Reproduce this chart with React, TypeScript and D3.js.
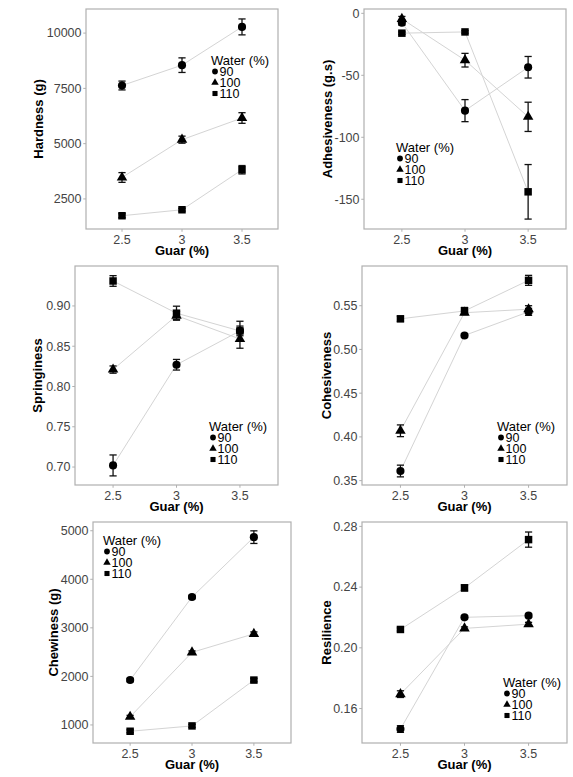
import * as d3 from "d3";
import React from "react";

// guar levels on the x axis and the three water levels
const guar = [2.5, 3, 3.5];
const water = ["90", "100", "110"];

// means per water level (rows: 90, 100, 110), one value per guar level
const hardness = [[7630, 8550, 10280], [3470, 5180, 6160], [1740, 2010, 3820]];
const hardnessErr = [[200, 330, 360], [220, 160, 240], [90, 60, 190]];

const adhesiveness = [[-7.5, -78.5, -43.5], [-4.5, -37.8, -83.5], [-16, -15, -144]];
const adhesivenessErr = [[2, 8.9, 8.7], [2, 5.5, 11.8], [1, 1, 22]];

const springiness = [[0.702, 0.827, 0.869], [0.821, 0.888, 0.859], [0.931, 0.891, 0.869]];
const springinessErr = [[0.013, 0.0066, 0.012], [0.0045, 0.005, 0.0115], [0.0066, 0.0087, 0.006]];

const cohesiveness = [[0.361, 0.516, 0.543], [0.407, 0.542, 0.546], [0.535, 0.544, 0.579]];
const cohesivenessErr = [[0.0067, 0.002, 0.004], [0.0067, 0.002, 0.004], [0.003, 0.004, 0.0057]];

const chewiness = [[1925, 3635, 4868], [1168, 2495, 2876], [870, 980, 1924]];
const chewinessErr = [[35, 35, 130], [30, 30, 40], [30, 30, 35]];

const resilience = [[0.1465, 0.2201, 0.2212], [0.1695, 0.2128, 0.2156], [0.2121, 0.2395, 0.2713]];
const resilienceErr = [[0.0022, 0.001, 0.001], [0.0022, 0.001, 0.0012], [0.001, 0.002, 0.005]];

const FONT = "'Liberation Sans', Arial, sans-serif";
const shapes = [d3.symbolCircle, d3.symbolTriangle, d3.symbolSquare];
const markSizes = [52, 48, 56];
const legendSizes = [26, 24, 26];

interface PanelProps {
  box: [number, number, number, number]; // left, top, right, bottom
  yDomain: [number, number];
  yTicks: number[];
  fmt: (v: number) => string;
  values: number[][];
  errors: number[][];
  yLabel: string;
  yLabelX: number;
  legend: [number, number];
}

const Panel = ({ box, yDomain, yTicks, fmt, values, errors, yLabel, yLabelX, legend }: PanelProps) => {
  const [x0, y0, x1, y1] = box;
  const x = d3.scaleLinear().domain([2.2, 3.8]).range([x0, x1]);
  const y = d3.scaleLinear().domain(yDomain).range([y1, y0]);
  const line = d3
    .line<number>()
    .x((_, i) => x(guar[i]))
    .y((d) => y(d));
  const cap = 3.6;
  return (
    <g>
      <rect x={x0} y={y0} width={x1 - x0} height={y1 - y0} fill="white" stroke="#b0b0b0" strokeWidth={1.2} />
      {yTicks.map((t) => (
        <g key={"y" + t}>
          <line x1={x0 - 2.75} x2={x0} y1={y(t)} y2={y(t)} stroke="#b0b0b0" strokeWidth={1} />
          <text x={x0 - 4.5} y={y(t)} dy="0.35em" textAnchor="end" fontSize={12.5} fill="#444" fontFamily={FONT}>
            {fmt(t)}
          </text>
        </g>
      ))}
      {guar.map((g) => (
        <g key={"x" + g}>
          <line x1={x(g)} x2={x(g)} y1={y1} y2={y1 + 2.75} stroke="#b0b0b0" strokeWidth={1} />
          <text x={x(g)} y={y1 + 14.5} textAnchor="middle" fontSize={12.5} fill="#444" fontFamily={FONT}>
            {String(g)}
          </text>
        </g>
      ))}
      <text x={(x0 + x1) / 2} y={y1 + 25.5} textAnchor="middle" fontSize={13} fontWeight="bold" fontFamily={FONT}>
        Guar (%)
      </text>
      <text
        transform={`translate(${yLabelX},${(y0 + y1) / 2}) rotate(-90)`}
        dy="0.35em"
        textAnchor="middle"
        fontSize={13}
        fontWeight="bold"
        fontFamily={FONT}
      >
        {yLabel}
      </text>
      {values.map((row, s) => (
        <path key={"l" + s} d={line(row) || ""} fill="none" stroke="#d4d4d4" strokeWidth={1} />
      ))}
      {values.map((row, s) =>
        row.map((v, i) => {
          const cx = x(guar[i]);
          const lo = y(v - errors[s][i]);
          const hi = y(v + errors[s][i]);
          return (
            <g key={"e" + s + i} stroke="#111" strokeWidth={1.3}>
              <line x1={cx} x2={cx} y1={lo} y2={hi} />
              <line x1={cx - cap} x2={cx + cap} y1={lo} y2={lo} />
              <line x1={cx - cap} x2={cx + cap} y1={hi} y2={hi} />
            </g>
          );
        })
      )}
      {values.map((row, s) =>
        row.map((v, i) => (
          <path
            key={"p" + s + i}
            transform={`translate(${x(guar[i])},${y(v)})`}
            d={d3.symbol(shapes[s], markSizes[s])() || ""}
            fill="#000"
          />
        ))
      )}
      <g fontFamily={FONT}>
        <text x={legend[0]} y={legend[1]} dy="0.35em" fontSize={13}>
          Water (%)
        </text>
        {water.map((w, s) => {
          const cy = legend[1] + 11.5 + s * 11;
          return (
            <g key={"k" + w}>
              <path
                transform={`translate(${legend[0] + 4},${cy})`}
                d={d3.symbol(shapes[s], legendSizes[s])() || ""}
                fill="#000"
              />
              <text x={legend[0] + 8.5} y={cy} dy="0.35em" fontSize={12.5}>
                {w}
              </text>
            </g>
          );
        })}
      </g>
    </g>
  );
};

const int = (v: number) => String(v);
const dec2 = (v: number) => v.toFixed(2);

const App = () => (
  <svg width={573} height={777} style={{ position: "absolute", left: 0, top: 0, background: "white" }}>
    <Panel
      box={[86, 9, 278, 229]}
      yDomain={[1140, 11090]}
      yTicks={[2500, 5000, 7500, 10000]}
      fmt={int}
      values={hardness}
      errors={hardnessErr}
      yLabel="Hardness (g)"
      yLabelX={38}
      legend={[211, 60]}
    />
    <Panel
      box={[364, 9, 566, 229]}
      yDomain={[-174, 3.5]}
      yTicks={[-150, -100, -50, 0]}
      fmt={int}
      values={adhesiveness}
      errors={adhesivenessErr}
      yLabel="Adhesiveness (g.s)"
      yLabelX={327}
      legend={[396, 147]}
    />
    <Panel
      box={[75, 266, 278, 485]}
      yDomain={[0.6777, 0.9496]}
      yTicks={[0.7, 0.75, 0.8, 0.85, 0.9]}
      fmt={dec2}
      values={springiness}
      errors={springinessErr}
      yLabel="Springiness"
      yLabelX={37}
      legend={[209, 426]}
    />
    <Panel
      box={[362, 266, 567, 485]}
      yDomain={[0.345, 0.5954]}
      yTicks={[0.35, 0.4, 0.45, 0.5, 0.55]}
      fmt={dec2}
      values={cohesiveness}
      errors={cohesivenessErr}
      yLabel="Cohesiveness"
      yLabelX={326}
      legend={[497, 426]}
    />
    <Panel
      box={[93, 522, 291, 743]}
      yDomain={[628, 5180]}
      yTicks={[1000, 2000, 3000, 4000, 5000]}
      fmt={int}
      values={chewiness}
      errors={chewinessErr}
      yLabel="Chewiness (g)"
      yLabelX={53}
      legend={[103, 540]}
    />
    <Panel
      box={[362, 522, 567, 743]}
      yDomain={[0.1373, 0.2829]}
      yTicks={[0.16, 0.2, 0.24, 0.28]}
      fmt={dec2}
      values={resilience}
      errors={resilienceErr}
      yLabel="Resilience"
      yLabelX={326}
      legend={[503, 682]}
    />
  </svg>
);

export default App;
